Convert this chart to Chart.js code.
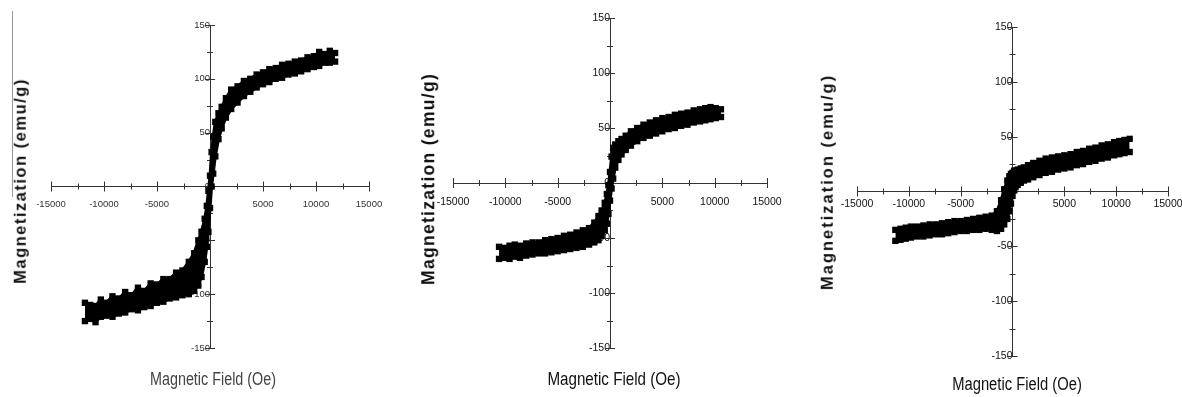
<!DOCTYPE html>
<html>
<head>
<meta charset="utf-8">
<script src="https://cdn.jsdelivr.net/npm/chart.js@4.4.0/dist/chart.umd.min.js"></script>
<style>
    html, body { margin: 0; padding: 0; background: #fff; width: 1182px; height: 397px; overflow: hidden; position: relative; }
    canvas { position: absolute; top: 0; }
    .ttl { position: absolute; white-space: nowrap; line-height: 1; }
    .ytl { font-family: 'Liberation Sans', Arial, sans-serif; font-weight: bold; color: #111; transform: translate(-50%, -50%) rotate(-90deg); }
    .xtl { font-family: 'Liberation Sans', Arial, sans-serif; transform: translate(-50%, -50%) scaleX(0.82); }
    #edge { position: absolute; left: 12px; top: 11px; width: 1px; height: 186px; background: #999; }
</style>
</head>
<body>
<div id="edge"></div>
<canvas id="c1" width="420" height="397" style="left:0px"></canvas>
<canvas id="c2" width="430" height="397" style="left:390px"></canvas>
<canvas id="c3" width="430" height="397" style="left:790px"></canvas>

<div class="ttl ytl" style="left:19.5px; top:181px; font-size:16.5px; letter-spacing:1.5px">Magnetization (emu/g)</div>
<div class="ttl ytl" style="left:429px; top:179px; font-size:17.5px; letter-spacing:1.3px">Magnetization (emu/g)</div>
<div class="ttl ytl" style="left:827px; top:182px; font-size:16.5px; letter-spacing:2px">Magnetization (emu/g)</div>

<div class="ttl xtl" style="left:213px; top:380px; font-size:17.5px; color:#444">Magnetic Field (Oe)</div>
<div class="ttl xtl" style="left:614px; top:379px; font-size:18.5px; color:#111">Magnetic Field (Oe)</div>
<div class="ttl xtl" style="left:1017px; top:384px; font-size:18px; color:#111">Magnetic Field (Oe)</div>

<script>
// Magnetic hysteresis loops, three samples (field in Oe, magnetization in emu/g)

const fieldRange = [-15000, 15000];
const magRange = [-150, 150];
const fieldStep = 2500;
const magStep = 25;

// Sample 1
const field1 = [-11800, -11300, -10800, -10300, -9800, -9200, -8600, -8000, -7400, -6800, -6200, -5600,
    -5000, -4400, -3800, -3200, -2600, -2000, -1500, -1100, -800, -500, -300, -150, 0,
    150, 300, 500, 800, 1100, 1500, 2000, 2600, 3200, 3800, 4400, 5000, 5600, 6200, 6800,
    7400, 8000, 8600, 9200, 9800, 10300, 10800, 11300, 11800];
const upper1 = [-108, -110, -111, -105, -108, -102, -104, -98, -101, -94, -97, -90,
    -91, -86, -86, -80, -78, -70, -62, -50, -42, -30, -18, -4, 10,
    32, 46, 60, 68, 74, 82, 90, 93, 98, 100, 104, 106, 109, 110, 113,
    114, 116, 117, 120, 121, 125, 123, 126, 124];
const lower1 = [-125, -123, -126, -121, -120, -121, -118, -117, -114, -115, -112, -111,
    -108, -107, -104, -103, -101, -100, -97, -92, -84, -70, -56, -42, -20,
    0, 12, 28, 44, 54, 64, 72, 78, 84, 88, 92, 95, 97, 100, 101,
    104, 105, 107, 109, 111, 112, 115, 115, 116];

// Sample 2
const field2 = [-10600, -10100, -9600, -9100, -8600, -8000, -7400, -6800, -6200, -5600, -5000, -4400,
    -3800, -3200, -2600, -2000, -1500, -1100, -800, -500, -300, -150, 0,
    150, 300, 500, 800, 1100, 1500, 2000, 2600, 3200, 3800, 4400, 5000, 5600, 6200,
    6800, 7400, 8000, 8600, 9100, 9600, 10100, 10600];
const upper2 = [-58, -59, -57, -56, -57, -55, -54, -54, -52, -51, -50, -48,
    -47, -45, -43, -41, -36, -30, -25, -18, -10, -2, 10,
    24, 32, 35, 38, 40, 43, 47, 50, 53, 55, 57, 59, 60, 62,
    63, 64, 66, 67, 68, 69, 68, 67];
const lower2 = [-69, -68, -69, -67, -68, -66, -65, -64, -64, -63, -62, -61,
    -60, -59, -58, -56, -54, -52, -48, -43, -37, -28, -16,
    -5, 4, 14, 21, 26, 30, 34, 38, 41, 43, 45, 47, 49, 50,
    52, 53, 55, 56, 57, 58, 59, 60];

// Sample 3
const field3 = [-11300, -10800, -10300, -9800, -9200, -8600, -8000, -7400, -6800, -6200, -5600, -5000,
    -4400, -3800, -3200, -2600, -2000, -1500, -1100, -800, -500, -300, -150, 0,
    150, 300, 500, 800, 1100, 1500, 2000, 2600, 3200, 3800, 4400, 5000, 5600, 6200,
    6800, 7400, 8000, 8600, 9200, 9800, 10300, 10800, 11300];
const upper3 = [-35, -34, -33, -32, -32, -31, -30, -30, -29, -28, -27, -27,
    -26, -25, -24, -23, -22, -18, -8, 2, 10, 14, 16, 17,
    19, 19, 20, 21, 22, 24, 26, 28, 30, 31, 32, 33, 34, 36,
    37, 39, 40, 42, 43, 45, 46, 47, 48];
const lower3 = [-45, -44, -43, -42, -41, -41, -40, -39, -39, -38, -37, -36,
    -36, -35, -35, -34, -35, -36, -34, -30, -25, -18, -11, -4,
    1, 4, 6, 8, 10, 11, 13, 15, 17, 18, 20, 21, 22, 24,
    25, 27, 28, 30, 31, 33, 34, 35, 36];

// tick marks crossing the axes, drawn from the chart's own scales
const crossTicks = {
    id: 'crossTicks',
    beforeDatasetsDraw(chart) {
        const { ctx, scales: { x, y } } = chart;
        const x0 = x.getPixelForValue(0);
        const y0 = y.getPixelForValue(0);
        ctx.save();
        ctx.strokeStyle = '#333';
        ctx.lineWidth = 1;
        ctx.beginPath();
        x.ticks.forEach(t => {
            const px = Math.round(x.getPixelForValue(t.value)) + 0.5;
            const h = t.value % 5000 === 0 ? 5 : 3;
            ctx.moveTo(px, y0 - h);
            ctx.lineTo(px, y0 + h);
        });
        y.ticks.forEach(t => {
            const py = Math.round(y.getPixelForValue(t.value)) + 0.5;
            const h = t.value % 50 === 0 ? 5 : 3;
            ctx.moveTo(x0 - h, py);
            ctx.lineTo(x0 + h, py);
        });
        ctx.stroke();
        ctx.restore();
    }
};

function toPoints(field, mag) {
    return field.map((f, i) => ({ x: f, y: mag[i] }));
}

function branch(points, fill) {
    return {
        data: points,
        showLine: true,
        fill: fill,
        backgroundColor: '#000',
        borderColor: '#000',
        borderWidth: 3,
        pointStyle: 'rect',
        pointRadius: 4.5,
        pointBackgroundColor: '#000',
        pointBorderWidth: 0,
        tension: 0
    };
}

function makeLoop(id, field, upper, lower, opt) {
    const font = { family: "'Liberation Sans', Arial, sans-serif", size: opt.fontSize };
    new Chart(document.getElementById(id), {
        type: 'scatter',
        data: {
            datasets: [branch(toPoints(field, upper), '+1'), branch(toPoints(field, lower), false)]
        },
        options: {
            responsive: false,
            animation: false,
            devicePixelRatio: 1,
            layout: { padding: opt.padding },
            plugins: { legend: { display: false }, tooltip: { enabled: false } },
            scales: {
                x: {
                    type: 'linear',
                    min: fieldRange[0],
                    max: fieldRange[1],
                    position: { y: 0 },
                    grid: { display: false, drawTicks: false },
                    border: { display: true, color: '#333', width: 1 },
                    ticks: {
                        stepSize: fieldStep,
                        autoSkip: false,
                        maxRotation: 0,
                        padding: opt.xPad,
                        color: opt.color,
                        font: font,
                        callback: v => (v % 5000 === 0 && v !== 0) ? String(v) : ''
                    }
                },
                y: {
                    type: 'linear',
                    min: magRange[0],
                    max: magRange[1],
                    position: { x: 0 },
                    grid: { display: false, drawTicks: false },
                    border: { display: true, color: '#333', width: 1 },
                    ticks: {
                        stepSize: magStep,
                        autoSkip: false,
                        padding: opt.yPad,
                        color: opt.color,
                        font: font,
                        callback: v => v % 50 === 0 ? String(v) : ''
                    }
                }
            }
        },
        plugins: [crossTicks]
    });
}

makeLoop('c1', field1, upper1, lower1, {
    padding: { left: 51, right: 51, top: 25, bottom: 49 },
    fontSize: 9.5, xPad: 12, yPad: 8, color: '#333'
});
makeLoop('c2', field2, upper2, lower2, {
    padding: { left: 63, right: 53, top: 18, bottom: 49 },
    fontSize: 10.5, xPad: 13, yPad: 7, color: '#111'
});
makeLoop('c3', field3, upper3, lower3, {
    padding: { left: 67, right: 52, top: 27, bottom: 41 },
    fontSize: 10.5, xPad: 6, yPad: 5, color: '#111'
});
</script>
</body>
</html>
